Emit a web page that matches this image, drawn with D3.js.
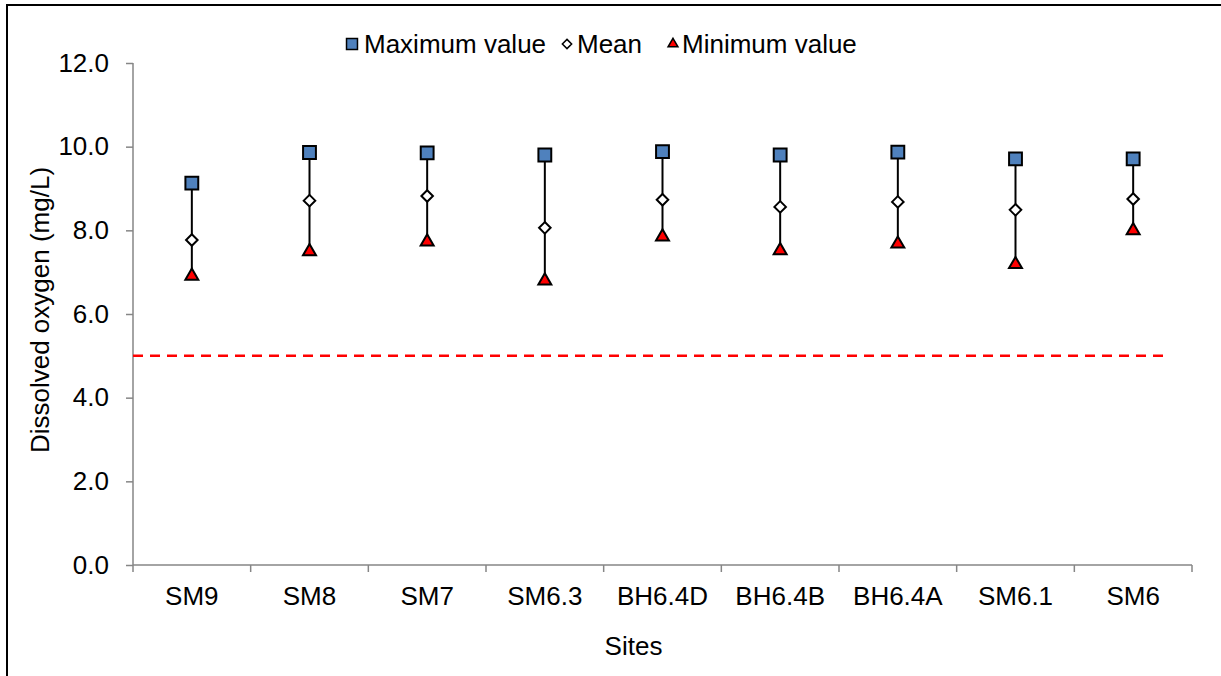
<!DOCTYPE html>
<html>
<head>
<meta charset="utf-8">
<script src="https://cdn.jsdelivr.net/npm/d3@7"></script>
<style>
  body { margin: 0; background: #fff; }
  svg { display: block; font-family: Arial, "Liberation Sans", sans-serif; }
  .axis path, .axis line { stroke: #868686; stroke-width: 1.5; }
  .axis text { font-size: 26px; fill: #000; }
</style>
</head>
<body>
<div id="chart"></div>
<script>
// --- Data ---
const sites = ['SM9', 'SM8', 'SM7', 'SM6.3', 'BH6.4D', 'BH6.4B', 'BH6.4A', 'SM6.1', 'SM6'];
const maxValues = [9.13, 9.86, 9.85, 9.80, 9.88, 9.80, 9.87, 9.71, 9.71];
const meanValues = [7.77, 8.71, 8.82, 8.06, 8.73, 8.56, 8.68, 8.49, 8.75];
const minValues = [6.93, 7.52, 7.75, 6.82, 7.87, 7.54, 7.70, 7.21, 8.02];
const guideline = 5.0;
const yTicks = [0, 2, 4, 6, 8, 10, 12];

const W = 1221, H = 676;
const margin = { top: 63, right: 29, bottom: 111, left: 133 };
const width = W - margin.left - margin.right;
const height = H - margin.top - margin.bottom;

const root = d3.select('#chart').append('svg')
    .attr('width', W)
    .attr('height', H);

// outer frame (only left and top edges visible)
root.append('rect')
    .attr('x', 7).attr('y', 5)
    .attr('width', W + 20).attr('height', H + 20)
    .attr('fill', 'none')
    .attr('stroke', '#000')
    .attr('stroke-width', 2);

const svg = root.append('g')
    .attr('transform', `translate(${margin.left},${margin.top})`);

// --- Scales ---
const x = d3.scaleBand().domain(sites).range([0, width]);
const y = d3.scaleLinear().domain([0, 12]).range([height, 0]);
const cx = s => x(s) + x.bandwidth() / 2;

// --- Axes ---
const yAxis = svg.append('g')
    .attr('class', 'axis')
    .call(d3.axisLeft(y).tickValues(yTicks).tickSize(7).tickSizeOuter(0).tickPadding(17)
        .tickFormat(d3.format('.1f')));
yAxis.select('.domain').attr('d', `M0,${y(12)}V${y(0)}`);

const xAxis = svg.append('g')
    .attr('class', 'axis')
    .attr('transform', `translate(0,${height})`)
    .call(d3.axisBottom(x).tickSize(0).tickPadding(22));
xAxis.select('.domain').attr('d', `M0,0H${width}`);
// category boundary ticks
svg.append('g')
    .selectAll('line')
    .data(d3.range(sites.length + 1))
    .enter().append('line')
    .attr('x1', i => i * x.step()).attr('x2', i => i * x.step())
    .attr('y1', height).attr('y2', height + 7)
    .attr('stroke', '#868686').attr('stroke-width', 1.5);

// --- Axis labels ---
svg.append('text')
    .attr('transform', 'rotate(-90)')
    .attr('x', -247)
    .attr('y', -84)
    .attr('text-anchor', 'middle')
    .attr('font-size', '26px')
    .text('Dissolved oxygen (mg/L)');

svg.append('text')
    .attr('x', width / 2 - 29)
    .attr('y', height + 90)
    .attr('text-anchor', 'middle')
    .attr('font-size', '26px')
    .text('Sites');

// --- Guideline (5 mg/L) ---
svg.append('line')
    .attr('x1', 0)
    .attr('x2', cx(sites[sites.length - 1]) + x.bandwidth() * 0.27)
    .attr('y1', y(guideline)).attr('y2', y(guideline))
    .attr('stroke', '#ff0000')
    .attr('stroke-width', 2.5)
    .attr('stroke-dasharray', '10,7');

// --- Range lines ---
svg.selectAll('.range')
    .data(sites)
    .enter().append('line')
    .attr('class', 'range')
    .attr('x1', d => cx(d)).attr('x2', d => cx(d))
    .attr('y1', (d, i) => y(maxValues[i]))
    .attr('y2', (d, i) => y(minValues[i]))
    .attr('stroke', '#000')
    .attr('stroke-width', 2);

// --- Markers ---
const sq = d3.symbol().type(d3.symbolSquare).size(165);
const dia = d3.symbol().type(d3.symbolDiamond2).size(85);
const tri = d3.symbol().type(d3.symbolTriangle2).size(120);

svg.selectAll('.max')
    .data(sites)
    .enter().append('path')
    .attr('class', 'max')
    .attr('d', sq)
    .attr('transform', (d, i) => `translate(${cx(d)},${y(maxValues[i])})`)
    .attr('fill', '#4f81bd').attr('stroke', '#000').attr('stroke-width', 2);

svg.selectAll('.mean')
    .data(sites)
    .enter().append('path')
    .attr('class', 'mean')
    .attr('d', dia)
    .attr('transform', (d, i) => `translate(${cx(d)},${y(meanValues[i])})`)
    .attr('fill', '#fff').attr('stroke', '#000').attr('stroke-width', 2);

svg.selectAll('.min')
    .data(sites)
    .enter().append('path')
    .attr('class', 'min')
    .attr('d', tri)
    .attr('transform', (d, i) => `translate(${cx(d)},${y(minValues[i]) + 1})`)
    .attr('fill', '#ff0000').attr('stroke', '#000').attr('stroke-width', 2);

// --- Legend ---
const legend = root.append('g').attr('transform', 'translate(0,44)');
const items = [
    { label: 'Maximum value', sym: d3.symbol().type(d3.symbolSquare).size(120), fill: '#4f81bd', x: 352, tx: 364 },
    { label: 'Mean', sym: d3.symbol().type(d3.symbolDiamond2).size(55), fill: '#fff', x: 567, tx: 577 },
    { label: 'Minimum value', sym: d3.symbol().type(d3.symbolTriangle2).size(70), fill: '#ff0000', x: 673, tx: 682 }
];
items.forEach(it => {
    legend.append('path')
        .attr('d', it.sym)
        .attr('transform', `translate(${it.x},0)`)
        .attr('fill', it.fill).attr('stroke', '#000').attr('stroke-width', 1.5);
    legend.append('text')
        .attr('x', it.tx)
        .attr('y', 9)
        .attr('font-size', '26px')
        .text(it.label);
});
</script>
</body>
</html>
